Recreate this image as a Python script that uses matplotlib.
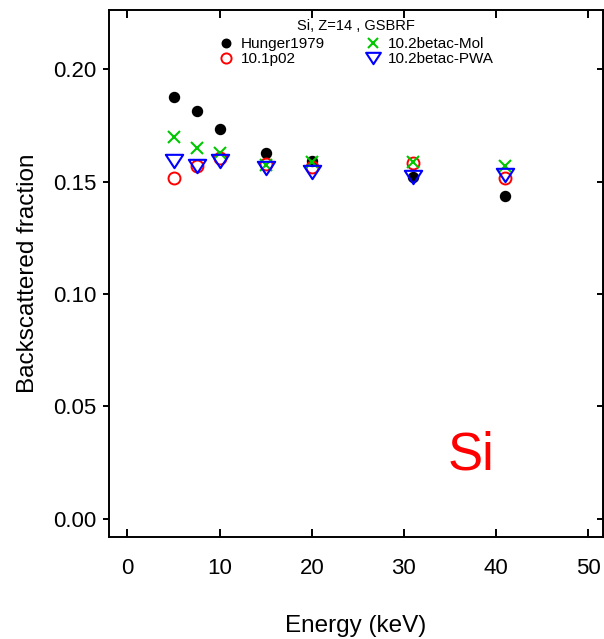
import numpy as np
import matplotlib.pyplot as plt
from matplotlib.path import Path

plt.rcParams['font.family'] = ['Liberation Sans', 'DejaVu Sans']

# Backscattered fraction of electrons on Si
energy = [5, 7.5, 10, 15, 20, 31, 41]
hunger1979 = [0.1875, 0.1816, 0.1734, 0.1628, 0.1593, 0.1519, 0.1438]
g4_101p02 = [0.1518, 0.1570, 0.1604, 0.1579, 0.1564, 0.1582, 0.1515]
g4_102_mol = [0.1700, 0.1649, 0.1626, 0.1574, 0.1589, 0.1589, 0.1570]
g4_102_pwa = [0.1590, 0.1572, 0.1590, 0.1560, 0.1543, 0.1520, 0.1528]

title = "Si, Z=14 , GSBRF"
xticks = [0, 10, 20, 30, 40, 50]
yticks = [0.00, 0.05, 0.10, 0.15, 0.20]

# wide down-pointing triangle
tri = Path([(-0.65, 0.5), (0.65, 0.5), (0.0, -0.5), (-0.65, 0.5)],
           [Path.MOVETO, Path.LINETO, Path.LINETO, Path.CLOSEPOLY])

fig = plt.figure(figsize=(6.04, 6.39), dpi=100)
ax = fig.add_axes([109 / 604, 1 - 537.3 / 639, 494 / 604, 527.3 / 639])

ax.plot(energy, hunger1979, 'o', color='black', ms=7.2, label='Hunger1979')
ax.plot(energy, g4_101p02, 'o', mfc='none', mec='#ff0000', mew=1.4, ms=8.6,
        label='10.1p02')
ax.plot(energy, g4_102_mol, 'x', color='#00c800', mew=1.5, ms=9,
        label='10.2betac-Mol')
ax.plot(energy, g4_102_pwa, marker=tri, ls='none', mfc='none', mec='#0000ff',
        mew=1.5, ms=12.5, label='10.2betac-PWA')

ax.set_xlim(-2.0, 51.6)
ax.set_ylim(-0.0082, 0.2264)
ax.set_xticks(xticks)
ax.set_yticks(yticks)
ax.set_yticklabels([f"{v:.2f}" for v in yticks])

ax.tick_params(axis='x', direction='in', length=6, width=1.4, pad=15,
               labelsize=16, top=True)
ax.tick_params(axis='y', direction='out', length=4, width=1.4, pad=5,
               labelsize=16)
for s in ax.spines.values():
    s.set_linewidth(1.4)

# right-hand ticks point inward, unlabeled
ry = ax.secondary_yaxis('right')
ry.set_yticks(yticks)
ry.tick_params(direction='in', length=4, width=1.4, labelright=False)

ax.set_xlabel("Energy (keV)", fontsize=17.5, labelpad=26)
ax.set_ylabel("Backscattered fraction", fontsize=17.5, labelpad=10)

ax.text(0.5, 0.9696, title, transform=ax.transAxes, fontsize=10.5,
        ha='center', va='center')
leg = ax.legend(ncol=2, loc='upper center', bbox_to_anchor=(0.5, 0.948),
                frameon=False, fontsize=11, labelspacing=0.05,
                handlelength=1.0, handletextpad=0.5, columnspacing=2.6,
                borderaxespad=0.0, borderpad=0.0, markerscale=0.85)

ax.text(37.3, 0.0221, "Si", color='#ff0000', fontsize=38,
        ha='center', va='baseline')

fig.savefig("out.png", dpi=100)
